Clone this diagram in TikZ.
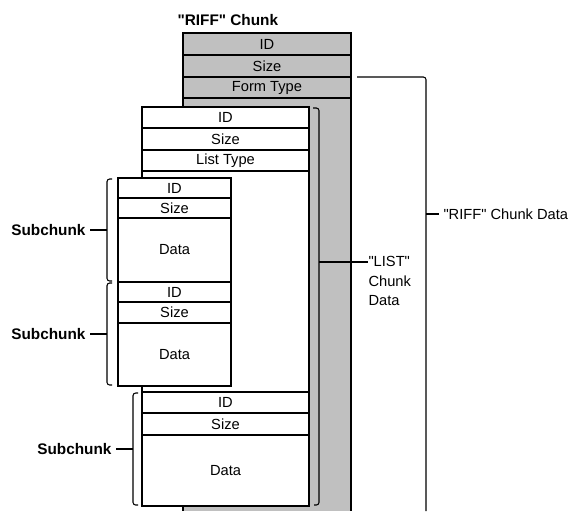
\documentclass[tikz,border=0pt]{standalone}
\usepackage{fontspec}
\setmainfont{Liberation Sans}[Ligatures=TeXOff]
\definecolor{chunkgray}{RGB}{192,192,192}

\begin{document}
\begin{tikzpicture}[x=0.75pt, y=-0.75pt, line width=0.8pt,
  every node/.style={font=\fontsize{11}{13}\selectfont},
  field/.style={draw, fill=white, inner sep=0pt, minimum height=#1*0.75pt},
  riff field/.style={field=#1, fill=chunkgray, minimum width=126pt},
  list field/.style={field=#1, minimum width=125.25pt},
  sub field/.style={field=#1, minimum width=84.75pt},
  sublabel/.style={font=\fontsize{11.5}{13}\selectfont\bfseries, inner sep=3pt},
  bracket/.style={rounded corners=2pt}]
\useasboundingbox (0,0) rectangle (574,511);

% title
\node [sublabel, anchor=west, inner sep=0pt] (title) at (177,20) {"RIFF" Chunk};

% "RIFF" chunk, gray body runs off the bottom
\fill [chunkgray] (183,98) rectangle (351,511);
\draw (183,98) -- (183,511) (351,98) -- (351,511);
\foreach \m/\t/\y/\h in {id/ID/44/22, size/Size/66/22, type/Form Type/87.5/21}
  \node [riff field=\h] (riff-\m) at (267,\y) {\t};

% "LIST" chunk
\node [list field=399] (list) at (225.5,306.5) {};
\foreach \m/\t/\y/\h in {id/ID/117.5/21, size/Size/139/22, type/List Type/160.5/21}
  \node [list field=\h] (list-\m) at (225.5,\y) {\t};

% subchunks
\foreach \m/\t/\y/\h in {id/ID/402.5/21, size/Size/424/22, data/Data/470.5/71}
  \node [list field=\h] (sub3-\m) at (225.5,\y) {\t};

\foreach \m/\t/\y/\h in {id/ID/188/20, size/Size/208/20, data/Data/250/64}
  \node [sub field=\h] (sub1-\m) at (174.5,\y) {\t};

\foreach \m/\t/\y/\h in {id/ID/292/20, size/Size/312.5/21, data/Data/354.5/63}
  \node [sub field=\h] (sub2-\m) at (174.5,\y) {\t};

% brackets
\draw [bracket] (112,179) -- (107,179) -- (107,281) -- (112,281);
\draw [bracket] (112,283) -- (107,283) -- (107,385) -- (112,385);
\draw [bracket] (138,393) -- (133,393) -- (133,505) -- (138,505);
\draw [bracket] (313,108) -- (319,108) -- (319,505) -- (314,505);
\draw [bracket] (357,77) -- (426,77) -- (426,511);

% names of subchunks
\foreach \i/\x/\y/\b in {1/90/230/107, 2/90/334/107, 3/116/449/133} {
  \node [sublabel, anchor=east] (sub\i-label) at (\x,\y) {Subchunk};
  \coordinate (sub\i-brace) at (\b,\y);
  \draw (sub\i-label) -- (sub\i-brace);
}

% chunk data labels
\coordinate (list-brace) at (319,262);
\node [anchor=north west, align=left, inner sep=0pt,
  font=\fontsize{11}{14.6}\selectfont] (list-label) at (368,256) {"LIST"\\Chunk\\Data};
\draw (list-brace) -- (list-brace -| list-label.west);

\coordinate (riff-brace) at (426,214);
\node [anchor=west, inner sep=3pt] (riff-label) at (439,214) {"RIFF" Chunk Data};
\draw (riff-brace) -- (riff-label);
\end{tikzpicture}
\end{document}
